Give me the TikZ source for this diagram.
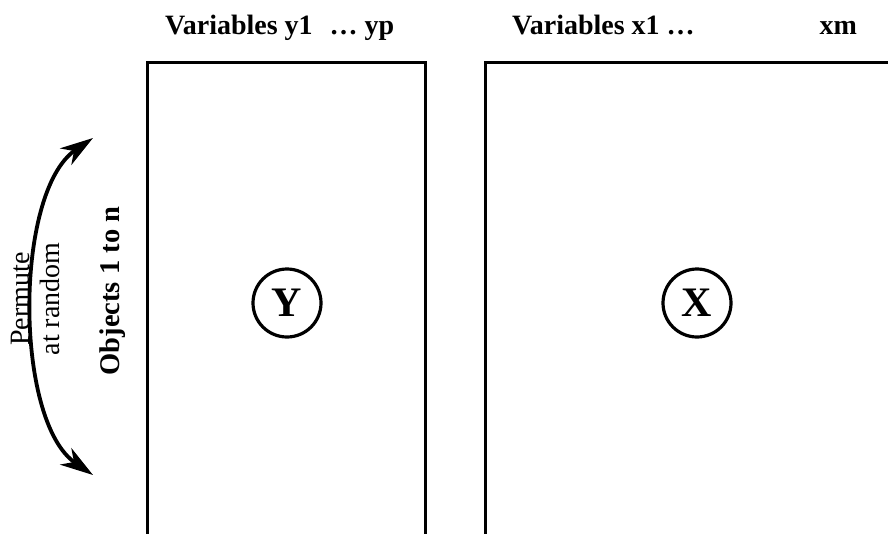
\documentclass[tikz,border=0pt]{standalone}
\usepackage{fontspec}
\setmainfont{Liberation Serif}
\usetikzlibrary{arrows.meta}
\begin{document}
\begin{tikzpicture}[x=1pt,y=-1pt,
  matrixbox/.style={draw, line width=3pt, outer sep=0pt, inner sep=0pt, anchor=north west},
  letterc/.style={draw, circle, line width=3.2pt, minimum size=68pt, inner sep=0pt, font=\fontsize{42}{44}\selectfont\bfseries},
  header/.style={anchor=base west, inner sep=0pt, font=\fontsize{28}{30}\selectfont\bfseries},
  sidelabel/.style={rotate=90, inner sep=0pt, font=\fontsize{28}{30}\selectfont},
  permarrow/.style={line width=3.8pt, {Stealth[length=33pt,width=20pt,inset=10pt]}-{Stealth[length=33pt,width=20pt,inset=10pt]}}
]
\useasboundingbox (0,0) rectangle (888,533);
\clip (0,0) rectangle (888,533);
\node[matrixbox, minimum width=278pt, minimum height=520pt] (ymat) at (147,62) {};
\node[matrixbox, minimum width=500pt, minimum height=520pt] (xmat) at (485,62) {};
\node[letterc] (ycirc) at (287,303) {Y};
\node[letterc] (xcirc) at (697,303) {X};
\node[header] (yhead) at (165,34) {Variables y1\hspace{17pt}… yp};
\node[header] (xhead) at (512,34) {Variables x1 …\hspace{125pt}xm};
\node[sidelabel, font=\fontsize{28.5}{30}\selectfont\bfseries] (objs) at (113,291) {Objects 1 to n};
\node[sidelabel, align=center] (perm) at (35,299) {Permute\\at random};
\coordinate (atop) at (93,138);
\coordinate (abot) at (93,475);
\draw[permarrow] (atop) .. controls (14,192) and (14,421) .. (abot);
\end{tikzpicture}
\end{document}
